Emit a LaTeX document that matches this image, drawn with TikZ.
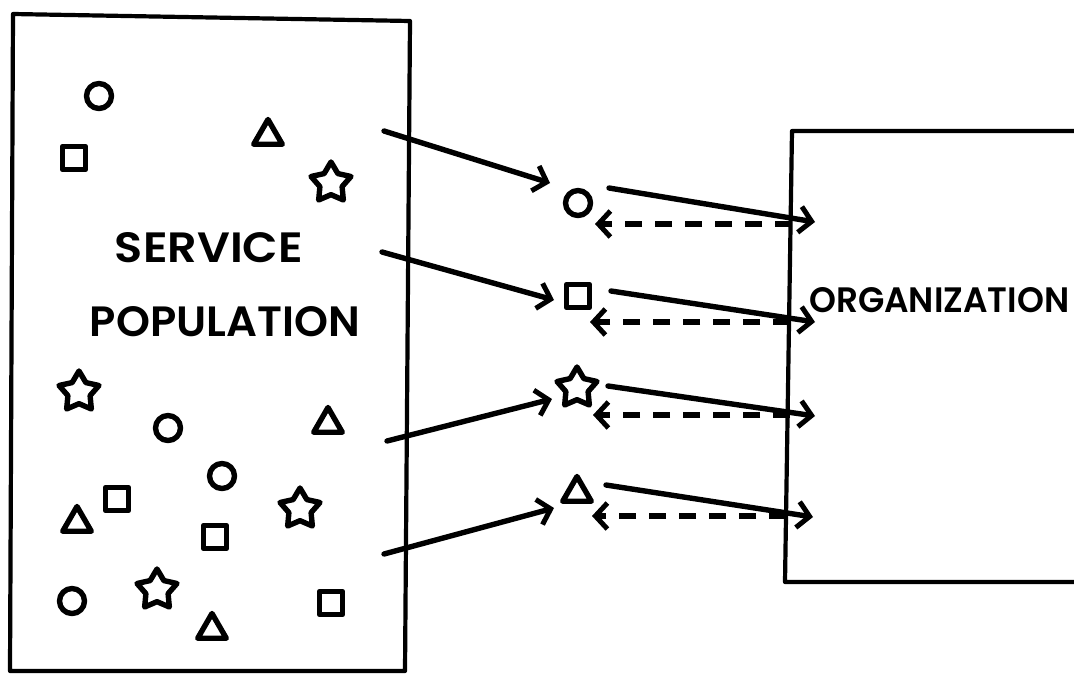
\documentclass[tikz,border=0pt]{standalone}
\usepackage{fontspec}
\usepackage{graphicx}
\setmainfont{Poppins}[BoldFont={Poppins SemiBold}]
\usetikzlibrary{shapes.geometric,arrows.meta}
\begin{document}
\begin{tikzpicture}[x=1pt,y=-1pt,
  frame/.style={line width=4.2pt, line join=round},
  sym/.style={draw, line width=5.4pt, line join=round, inner sep=0pt, outer sep=0pt},
  circ/.style={sym, circle, minimum size=25pt},
  sq/.style={sym, rectangle, minimum size=23pt},
  tri/.style={sym, regular polygon, regular polygon sides=3, minimum size=33pt},
  starx/.style={sym, star, star points=5, star point ratio=1.8, minimum size=42pt},
  tip/.style={-{Straight Barb[length=12pt,width=26pt,line width=5pt]}},
  flow/.style={tip, line width=5.4pt, line cap=round},
  back/.style={tip, line width=5.4pt, dash pattern=on 17pt off 13pt},
  lbl/.style={inner sep=0pt}
]
\useasboundingbox (0,0) rectangle (1074,675);
\fill[white] (0,0) rectangle (1074,675);
\clip (0,0) rectangle (1074,675);

% frames
\draw[frame] (13,14) -- (410,21) -- (405,671) -- (10,671) -- cycle;
\draw[frame] (1080,131) -- (792,131) -- (785,582) -- (1080,582);

% labels
\node[lbl] (svc) at (209,248) {\resizebox{188pt}{30pt}{\bfseries SERVICE}};
\node[lbl] (pop) at (225,322) {\resizebox{270pt}{30pt}{\bfseries POPULATION}};
\node[lbl, anchor=west] (org) at (809,300) {\resizebox{260pt}{25pt}{\bfseries ORGANIZATION}};

% population symbols
\node[circ]  (p1)  at (99,96) {};
\node[sq]    (p2)  at (74,158) {};
\node[tri]   (p3)  at (268,136) {};
\node[starx] (p4)  at (331,183) {};
\node[starx] (p5)  at (79,392) {};
\node[circ]  (p6)  at (168,428) {};
\node[tri]   (p7)  at (328,424) {};
\node[circ]  (p8)  at (222,476) {};
\node[sq]    (p9)  at (117,499) {};
\node[tri]   (p10) at (77,523) {};
\node[sq]    (p11) at (215,537) {};
\node[starx] (p12) at (300,509) {};
\node[circ]  (p13) at (72,601) {};
\node[starx] (p14) at (157,590) {};
\node[tri]   (p15) at (212,630) {};
\node[sq]    (p16) at (331,603) {};

% selected symbols
\node[circ]  (m1) at (578,203) {};
\node[sq]    (m2) at (578,296) {};
\node[starx] (m3) at (577,388) {};
\node[tri]   (m4) at (577,493) {};

% connector end points
\coordinate (a1) at (384,131);
\coordinate (a2) at (382,252);
\coordinate (a3) at (387,441);
\coordinate (a4) at (384,554);
\coordinate (b1) at (550,183);
\coordinate (b2) at (554,300);
\coordinate (b3) at (552,399);
\coordinate (b4) at (554,508);
\coordinate (c1) at (609,188);
\coordinate (c2) at (611,291);
\coordinate (c3) at (608,386);
\coordinate (c4) at (606,485);
\coordinate (d1) at (815,222);
\coordinate (d2) at (815,322);
\coordinate (d3) at (815,416);
\coordinate (d4) at (813,517);
\coordinate (e1) at (792,224);
\coordinate (e2) at (790,322);
\coordinate (e3) at (790,415);
\coordinate (e4) at (786,516);
\coordinate (f1) at (595,224);
\coordinate (f2) at (590,322);
\coordinate (f3) at (593,415);
\coordinate (f4) at (592,516);

\foreach \i in {1,2,3,4}{
  \draw[flow] (a\i) -- (b\i);
  \draw[flow] (c\i) -- (d\i);
  \draw[back] (e\i) -- (f\i);
}
\end{tikzpicture}
\end{document}
